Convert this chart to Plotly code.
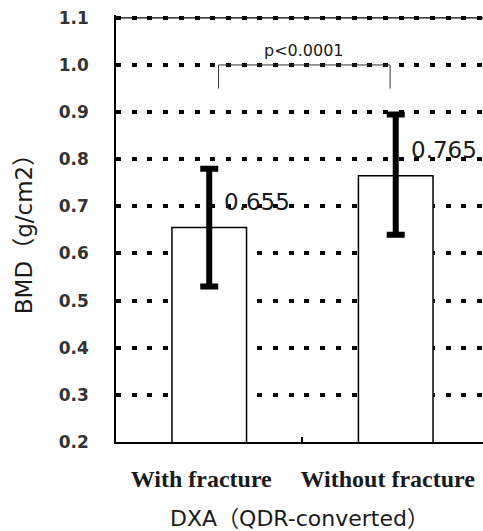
import plotly.graph_objects as go

categories = ["With fracture", "Without fracture"]
means = [0.655, 0.765]
err_plus = [0.125, 0.13]
err_minus = [0.125, 0.125]
value_labels = ["0.655", "0.765"]
y_ticks = [0.2, 0.3, 0.4, 0.5, 0.6, 0.7, 0.8, 0.9, 1.0, 1.1]
p_text = "p<0.0001"
bracket_x = [0.05, 0.97]
bracket_y = [0.95, 1.0]

fig = go.Figure()
fig.add_trace(go.Bar(
    x=categories, y=means, width=0.4,
    marker=dict(color="white", line=dict(color="black", width=1.5)),
    error_y=dict(type="data", array=err_plus, arrayminus=err_minus, symmetric=False,
                 color="black", thickness=6, width=9),
    showlegend=False,
))

for i, (m, t) in enumerate(zip(means, value_labels)):
    fig.add_annotation(x=i, y=m, text=t, xref="x", yref="y", showarrow=False,
                       xanchor="left", yanchor="middle", xshift=13, yshift=26,
                       font=dict(family="DejaVu Sans", size=23, color="#1a1a1a"))

fig.add_shape(type="path", xref="x", yref="y",
              path=f"M {bracket_x[0]},{bracket_y[0]} L {bracket_x[0]},{bracket_y[1]} L {bracket_x[1]},{bracket_y[1]} L {bracket_x[1]},{bracket_y[0]}",
              line=dict(color="#333", width=1))
fig.add_annotation(x=(bracket_x[0] + bracket_x[1]) / 2, y=bracket_y[1], text=p_text,
                   xref="x", yref="y", showarrow=False, yanchor="bottom", yshift=3,
                   font=dict(family="DejaVu Sans", size=16, color="#1a1a1a"))

# thin solid top border of the plot area (at the top tick)
fig.add_shape(type="line", xref="paper", yref="y", x0=0, x1=1, y0=y_ticks[-1], y1=y_ticks[-1],
              line=dict(color="black", width=1.2), layer="below")

fig.update_layout(
    width=483, height=531,
    margin=dict(l=116, r=0, t=15, b=89),
    paper_bgcolor="white", plot_bgcolor="white",
    xaxis=dict(
        type="category", range=[-0.5, 1.468],
        showline=True, linecolor="black", linewidth=1.5,
        ticks="inside", tickson="boundaries", ticklen=5, tickcolor="black", tickwidth=1.5,
        showgrid=False,
        tickfont=dict(family="Liberation Serif", size=24, color="#1a1a1a", weight="bold"),
        ticklabelshift=-8, ticklabelstandoff=14,
        title=dict(text="DXA（QDR-converted）", standoff=23,
                   font=dict(family="DejaVu Sans, Noto Sans CJK JP", size=22, color="#1a1a1a")),
    ),
    yaxis=dict(
        range=[0.2, 1.106], tickvals=y_ticks, tickformat=".1f",
        showline=True, linecolor="black", linewidth=1.5,
        showgrid=True, gridcolor="black", gridwidth=4, griddash="5px,10.7px",
        ticks="", ticklabelstandoff=22,
        tickfont=dict(family="DejaVu Sans", size=17, color="#333", weight="bold"),
        zeroline=False,
        title=dict(text="BMD（g/cm2）", standoff=20,
                   font=dict(family="DejaVu Sans, Noto Sans CJK JP", size=23, color="#1a1a1a")),
    ),
)

fig.write_html("out.html")
